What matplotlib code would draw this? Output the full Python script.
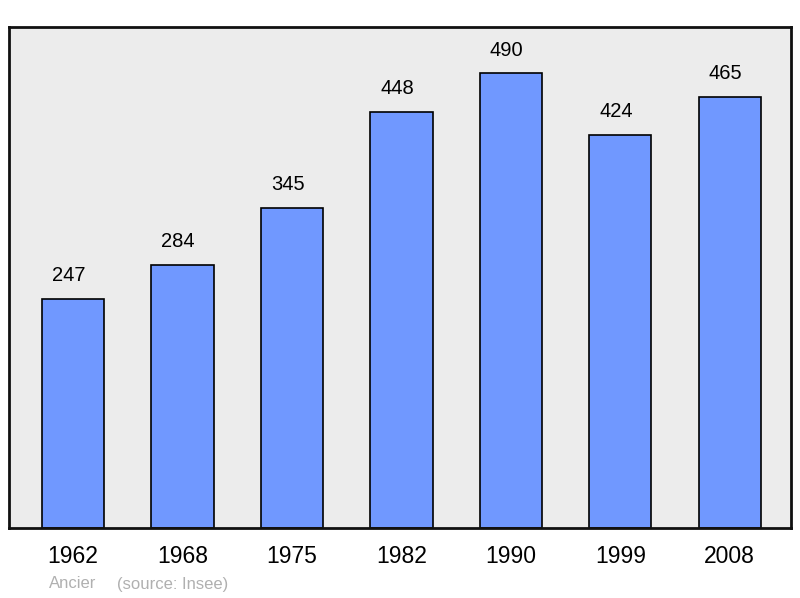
import matplotlib
matplotlib.use("Agg")
import matplotlib.pyplot as plt

years = ["1962", "1968", "1975", "1982", "1990", "1999", "2008"]
population = [247, 284, 345, 448, 490, 424, 465]

plt.rcParams["font.family"] = ["Liberation Sans", "DejaVu Sans"]

fig = plt.figure(figsize=(8, 5.98), dpi=100)
ax = fig.add_axes([9 / 800, 70 / 598, 782 / 800, 501 / 598])
ax.set_facecolor("#ececec")

x = list(range(len(years)))
ax.bar(x, population, width=0.57, color="#7098ff", edgecolor="black",
       linewidth=1.2, zorder=2)
for xi, v in zip(x, population):
    ax.annotate(str(v), (xi, v), xytext=(-3, 10), textcoords="offset points",
                ha="center", va="bottom", fontsize=14.5, color="black")

ax.set_xlim(-0.585, 6.56)
ax.set_ylim(0, 540)
ax.set_yticks([])
ax.set_xticks(x)
ax.set_xticklabels(years, fontsize=16.5)
ax.tick_params(axis="x", length=0, pad=12)
for s in ax.spines.values():
    s.set_linewidth(2)
    s.set_color("#111111")

fig.text(49 / 800, 1 - 584 / 598, "Ancier", ha="left",
         va="center", fontsize=12, color="#b0b0b0")
fig.text(117 / 800, 1 - 584 / 598, "(source: Insee)", ha="left",
         va="center", fontsize=12, color="#b0b0b0")

fig.savefig("out.png", dpi=100)
